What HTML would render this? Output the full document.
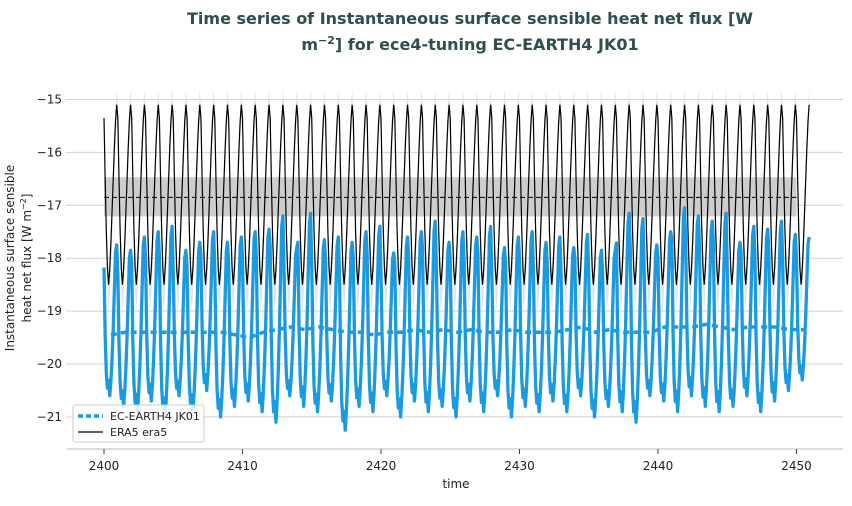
<!DOCTYPE html>
<html><head><meta charset="utf-8"><style>
body{margin:0;background:#fff;font-family:"Liberation Sans","DejaVu Sans",sans-serif}
svg text{font-family:"DejaVu Sans","Liberation Sans",sans-serif}
</style></head><body>
<svg id="chart" width="852" height="501" viewBox="0 0 852 501" xmlns="http://www.w3.org/2000/svg">
<text x="470" y="24" text-anchor="middle" font-size="16" font-weight="bold" fill="#2f4f4f">Time series of Instantaneous surface sensible heat net flux [W</text>
<text x="470" y="50" text-anchor="middle" font-size="16" font-weight="bold" fill="#2f4f4f">m<tspan dy="-6" font-size="11">−2</tspan><tspan dy="6">] for ece4-tuning EC-EARTH4 JK01</tspan></text>
<g id="grid"></g><g id="marks"></g>
<g>
<rect x="73" y="405" width="131" height="37" rx="2" fill="#fff" fill-opacity="0.85" stroke="#ccc"/>
<line x1="78" y1="416" x2="103" y2="416" stroke="#1a9ae0" stroke-width="3.5" stroke-dasharray="5,3"/>
<text x="110" y="420" font-size="11" fill="#222">EC-EARTH4 JK01</text>
<line x1="78" y1="432" x2="103" y2="432" stroke="#000" stroke-width="1.2"/>
<text x="110" y="436" font-size="11" fill="#222">ERA5 era5</text>
</g>
<g id="axes"></g>
<text transform="translate(14,258) rotate(-90)" text-anchor="middle" font-size="12" fill="#222">Instantaneous surface sensible</text>
<text transform="translate(31,258) rotate(-90)" text-anchor="middle" font-size="12" fill="#222">heat net flux [W m<tspan dy="-5" font-size="8">−2</tspan><tspan dy="5">]</tspan></text>
<text x="456" y="488" text-anchor="middle" font-size="12" fill="#222">time</text>
</svg>
<script>
const years = Array.from({length:51},(_,i)=>2400+i);
const modelPeak = [-17.75,-17.85,-17.6,-17.5,-17.4,-17.85,-17.7,-17.5,-17.7,-17.6,-17.5,-17.45,-17.2,-17.8,-17.15,-17.65,-17.6,-17.7,-17.5,-17.4,-17.9,-17.6,-17.5,-17.3,-17.7,-17.5,-17.6,-17.4,-17.8,-17.6,-17.5,-17.7,-17.6,-17.8,-17.55,-17.85,-17.85,-17.15,-17.25,-17.75,-17.5,-17.05,-17.2,-17.3,-17.15,-17.7,-17.4,-17.45,-17.3,-17.55,-17.6];
const modelTrough = [-20.6,-20.8,-20.9,-20.7,-21.0,-20.6,-20.9,-20.5,-21.0,-20.8,-20.7,-20.9,-21.1,-20.6,-20.8,-20.9,-20.7,-21.25,-20.8,-20.9,-20.6,-21.0,-20.7,-20.9,-20.8,-21.0,-20.7,-20.9,-20.6,-21.0,-20.8,-20.9,-20.7,-20.9,-20.6,-21.0,-20.8,-20.9,-21.1,-20.6,-20.7,-20.9,-20.6,-20.8,-20.9,-20.8,-20.6,-20.9,-20.7,-20.5,-20.3];
const modelMean = [-19.45,-19.4,-19.4,-19.4,-19.4,-19.4,-19.4,-19.4,-19.4,-19.45,-19.5,-19.4,-19.35,-19.3,-19.35,-19.3,-19.35,-19.4,-19.4,-19.45,-19.4,-19.4,-19.35,-19.4,-19.35,-19.4,-19.35,-19.4,-19.4,-19.35,-19.4,-19.4,-19.4,-19.35,-19.3,-19.4,-19.35,-19.4,-19.4,-19.4,-19.3,-19.3,-19.3,-19.25,-19.3,-19.35,-19.3,-19.3,-19.3,-19.35,-19.35];
const modelShape = [0.85,0.4,0.15,0.05,0.1,0,0.1,0.25,0.45,0.7,0.95,1.0];
const eraClim = [-15.35,-16.5,-17.5,-18.2,-18.5,-18.2,-17.7,-17.1,-16.5,-15.9,-15.4,-15.1];
const eraUpper = [-15.1,-16.2,-17.2,-17.9,-18.2,-17.9,-17.4,-16.8,-16.2,-15.6,-15.1,-14.8];
const eraLower = [-15.7,-16.9,-18.0,-18.7,-19.0,-18.7,-18.2,-17.6,-16.9,-16.3,-15.8,-15.4];
const eraMean = -16.85, eraBandHi = -16.47, eraBandLo = -17.21;
const yTicks = [-15,-16,-17,-18,-19,-20,-21];
const xTicks = [2400,2410,2420,2430,2440,2450];

const X = t => 104 + (t-2400)*13.85;
const Y = v => 99.5 + (-15 - v)*52.9;
const NS='http://www.w3.org/2000/svg';
function mk(tag,attrs,parent){const e=document.createElementNS(NS,tag);for(const k in attrs)e.setAttribute(k,attrs[k]);parent.appendChild(e);return e;}
const grid=document.getElementById('grid'),marks=document.getElementById('marks'),axes=document.getElementById('axes');
yTicks.forEach(v=>{
  const l=mk('line',{x1:66,x2:843,y1:Y(v),y2:Y(v),stroke:'#d0d0d0','stroke-width':1},grid);
  
  
  const t=mk('text',{x:62,y:Y(v)+4,'text-anchor':'end','font-size':12,fill:'#222'},axes);
  t.textContent=String(v).replace('-','−');
  
  
});
const sp=mk('line',{x1:67,x2:843,y1:449,y2:449,stroke:'#bbb','stroke-width':1},axes);


xTicks.forEach(v=>{
  mk('line',{x1:X(v),x2:X(v),y1:449,y2:454,stroke:'#444'},axes);
  const t=mk('text',{x:X(v),y:470,'text-anchor':'middle','font-size':12,fill:'#222'},axes);
  t.textContent=v;
  
  
});
let up=[],lo=[],era=[];
years.forEach(y=>{for(let m=0;m<12;m++){const t=y+m/12;up.push(X(t)+','+Y(eraUpper[m]));lo.push(X(t)+','+Y(eraLower[m]));era.push(X(t)+','+Y(eraClim[m]));}});
const env=mk('polygon',{points:up.concat(lo.reverse()).join(' '),fill:'#e4e4e4'},marks);


const band=mk('rect',{x:X(2400),y:Y(eraBandHi),width:X(2450)-X(2400),height:Y(eraBandLo)-Y(eraBandHi),fill:'#c8c8c8','fill-opacity':0.9},marks);


const ml=mk('line',{x1:X(2400),x2:X(2450),y1:Y(eraMean),y2:Y(eraMean),stroke:'#000','stroke-width':1,'stroke-dasharray':'5,3'},marks);


let mp=[];
years.forEach((y,i)=>{for(let m=0;m<12;m++){mp.push(X(y+m/12)+','+Y(modelTrough[i]+modelShape[m]*(modelPeak[i]-modelTrough[i])));}});
const bl=mk('polyline',{points:mp.join(' '),fill:'none',stroke:'#1a9ae0','stroke-width':3.3,'stroke-linejoin':'round'},marks);


const mm=mk('polyline',{points:years.map((y,i)=>X(y+0.5)+','+Y(modelMean[i])).join(' '),fill:'none',stroke:'#1a9ae0','stroke-width':3.5,'stroke-dasharray':'6,4'},marks);


const el=mk('polyline',{points:era.join(' '),fill:'none',stroke:'#000','stroke-width':1.2},marks);


</script>
</body></html>
